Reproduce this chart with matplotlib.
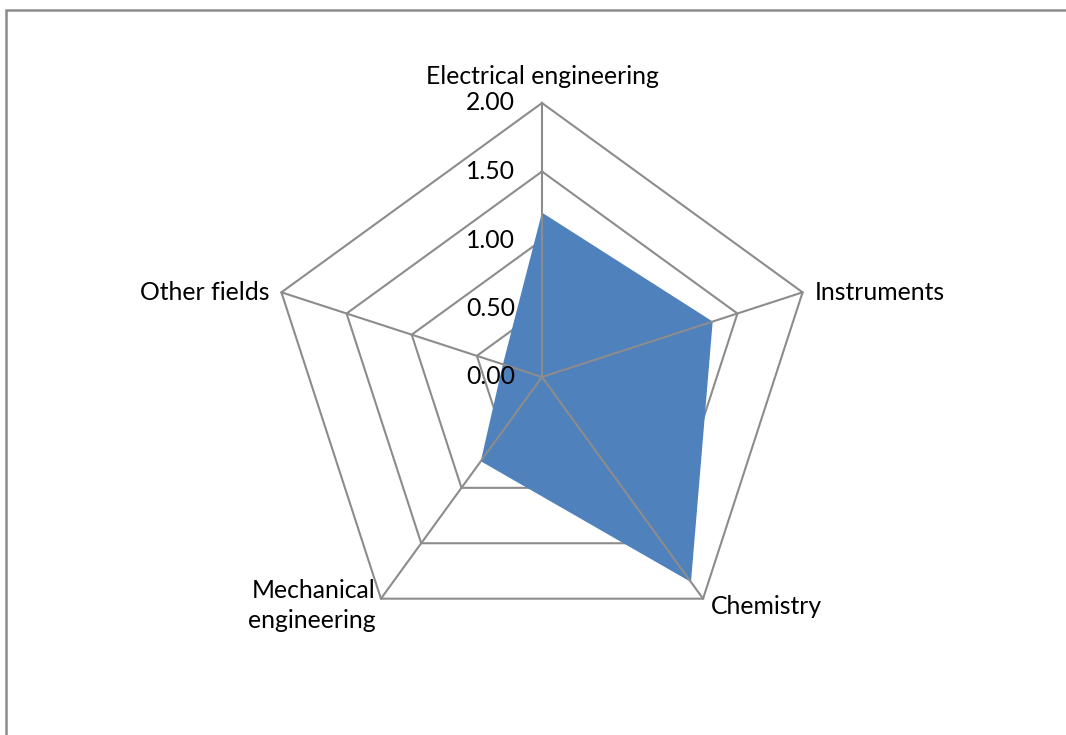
import numpy as np
import matplotlib
matplotlib.use("Agg")
import matplotlib.pyplot as plt
from matplotlib.patches import Rectangle, Polygon

categories = ["Electrical engineering", "Instruments", "Chemistry",
              "Mechanical\nengineering", "Other fields"]
values = [1.20, 1.31, 1.85, 0.76, 0.30]
ticks = [0.0, 0.5, 1.0, 1.5, 2.0]
tick_labels = ["0.00", "0.50", "1.00", "1.50", "2.00"]

W, H = 1066, 735
cx, cy = 542, 377
scale = 137.0  # px per unit

plt.rcParams['font.family'] = ['Lato', 'DejaVu Sans']
fig = plt.figure(figsize=(W / 100, H / 100), dpi=100)
ax = fig.add_axes([0, 0, 1, 1])
ax.set_xlim(-cx / scale, (W - cx) / scale)
ax.set_ylim(-(H - cy) / scale, cy / scale)
ax.axis('off')

# outer chart border (partially cropped)
fig.patches.append(Rectangle((6 / W, -0.1), 1.2, 1 - 10.5 / H + 0.1,
                             transform=fig.transFigure, fill=False,
                             edgecolor='#8c8c8c', linewidth=1.8, zorder=0))

n = len(categories)
angles = np.pi / 2 - np.arange(n) * 2 * np.pi / n
ux, uy = np.cos(angles), np.sin(angles)

grid_c = '#8c8c8c'
rmax = ticks[-1]
# rings (behind the data)
for t in ticks[1:]:
    xs = np.append(t * ux, t * ux[0])
    ys = np.append(t * uy, t * uy[0])
    ax.plot(xs, ys, color=grid_c, lw=1.5, zorder=1)

# data polygon
px = np.array(values) * ux
py = np.array(values) * uy
ax.add_patch(Polygon(np.column_stack([px, py]), closed=True,
                     facecolor='#4F81BD', edgecolor='none', zorder=2))

# spokes (over the data)
for i in range(n):
    ax.plot([0, rmax * ux[i]], [0, rmax * uy[i]], color=grid_c, lw=1.5, zorder=3)

fs = 17.8
# tick labels
for t, lab in zip(ticks, tick_labels):
    ax.text(-27 / scale, t, lab, ha='right', va='center', fontsize=fs,
            color='black', zorder=4)

# category labels
lab_pos = [
    (0, rmax + 0.11, 'center', 'bottom'),
    (rmax * ux[1] + 0.09, rmax * uy[1], 'left', 'center'),
    (rmax * ux[2] + 0.06, rmax * uy[2] - 0.06, 'left', 'center'),
    (rmax * ux[3] - 0.04, rmax * uy[3] - 0.05, 'right', 'center'),
    (rmax * ux[4] - 0.09, rmax * uy[4], 'right', 'center'),
]
for (x, y, ha, va), lab in zip(lab_pos, categories):
    ax.text(x, y, lab, ha=ha, va=va, fontsize=fs, color='black',
            linespacing=1.4, multialignment='right', zorder=4)

fig.savefig("out.png", dpi=100)
